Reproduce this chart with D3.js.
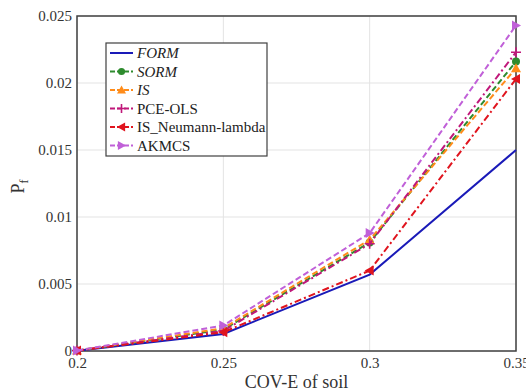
<!DOCTYPE html>
<html>
<head>
<meta charset="utf-8">
<script src="https://cdn.jsdelivr.net/npm/d3@7"></script>
<style>
  body { margin: 0; background: #fff; }
</style>
</head>
<body>
<svg id="grafico"></svg>
<script>
const largura = 526;
const altura = 392;
const margem = { top: 16, right: 10, bottom: 41, left: 77 };
const fonte = '"Liberation Serif"';

// Dados
const cov = [0.2, 0.25, 0.3, 0.35];
const form = [0.00002, 0.00127, 0.0057, 0.0150];
const sorm = [0.00003, 0.0016, 0.0081, 0.0216];
const isVals = [0.00003, 0.0017, 0.0083, 0.0211];
const pceOls = [0.00003, 0.0015, 0.0080, 0.0223];
const isNeumann = [0.00003, 0.0014, 0.0060, 0.0203];
const akmcs = [0.00004, 0.0019, 0.0088, 0.0243];
const xTicks = [0.2, 0.25, 0.3, 0.35];
const yTicks = [0, 0.005, 0.01, 0.015, 0.02, 0.025];

const series = [
  { nome: "FORM", italico: true, valores: form, cor: "#1a1ab8", dash: null, marcador: "none" },
  { nome: "SORM", italico: true, valores: sorm, cor: "#2e8b2e", dash: "6,3", marcador: "circle" },
  { nome: "IS", italico: true, valores: isVals, cor: "#ff8c1a", dash: "6,3", marcador: "up" },
  { nome: "PCE-OLS", italico: false, valores: pceOls, cor: "#c0187a", dash: "7,3,2,3", marcador: "plus" },
  { nome: "IS_Neumann-lambda", italico: false, valores: isNeumann, cor: "#e0141e", dash: "7,3,2,3", marcador: "left" },
  { nome: "AKMCS", italico: false, valores: akmcs, cor: "#c060d8", dash: "6,3", marcador: "right" }
];

const svg = d3.select("#grafico")
  .attr("width", largura)
  .attr("height", altura);

// Escalas
const x = d3.scaleLinear()
  .domain([0.2, 0.35])
  .range([margem.left, largura - margem.right]);

const y = d3.scaleLinear()
  .domain([0, 0.025])
  .range([altura - margem.bottom, margem.top]);

// Grade
svg.append("g")
  .selectAll("line")
  .data(xTicks)
  .join("line")
  .attr("x1", d => x(d)).attr("x2", d => x(d))
  .attr("y1", y(0)).attr("y2", y(0.025))
  .attr("stroke", "#e3e3e3").attr("stroke-width", 1);

svg.append("g")
  .selectAll("line")
  .data(yTicks)
  .join("line")
  .attr("x1", x(0.2)).attr("x2", x(0.35))
  .attr("y1", d => y(d)).attr("y2", d => y(d))
  .attr("stroke", "#e3e3e3").attr("stroke-width", 1);

// Eixos
const eixoX = svg.append("g")
  .attr("transform", `translate(0, ${y(0)})`)
  .call(d3.axisBottom(x).tickValues(xTicks).tickSize(0).tickPadding(6).tickFormat(d => String(d)));

const eixoY = svg.append("g")
  .attr("transform", `translate(${x(0.2)}, 0)`)
  .call(d3.axisLeft(y).tickValues(yTicks).tickSize(0).tickPadding(5).tickFormat(d => String(d)));

[eixoX, eixoY].forEach(g => {
  g.select(".domain").remove();
  g.selectAll("text")
    .style("font-family", fonte)
    .style("font-size", "15px")
    .attr("fill", "#333");
});

// Moldura
svg.append("rect")
  .attr("x", x(0.2)).attr("y", y(0.025))
  .attr("width", x(0.35) - x(0.2))
  .attr("height", y(0) - y(0.025))
  .attr("fill", "none")
  .attr("stroke", "#404040")
  .attr("stroke-width", 1.5);

// Marcadores
function desenhaMarcador(g, tipo, cor, cx, cy, s) {
  if (tipo === "circle") {
    g.append("circle").attr("cx", cx).attr("cy", cy).attr("r", s * 0.8).attr("fill", cor);
  } else if (tipo === "up") {
    g.append("path").attr("d", `M${cx},${cy - s}L${cx + s},${cy + s * 0.8}L${cx - s},${cy + s * 0.8}Z`).attr("fill", cor);
  } else if (tipo === "left") {
    g.append("path").attr("d", `M${cx - s},${cy}L${cx + s * 0.8},${cy - s}L${cx + s * 0.8},${cy + s}Z`).attr("fill", cor);
  } else if (tipo === "right") {
    g.append("path").attr("d", `M${cx + s},${cy}L${cx - s * 0.8},${cy - s}L${cx - s * 0.8},${cy + s}Z`).attr("fill", cor);
  } else if (tipo === "plus") {
    g.append("path").attr("d", `M${cx - s},${cy}H${cx + s}M${cx},${cy - s}V${cy + s}`)
      .attr("stroke", cor).attr("stroke-width", 1.6);
  }
}

// Linhas
const linha = d3.line()
  .x((d, i) => x(cov[i]))
  .y(d => y(d));

series.forEach(s => {
  svg.append("path")
    .datum(s.valores)
    .attr("fill", "none")
    .attr("stroke", s.cor)
    .attr("stroke-width", 2)
    .attr("stroke-dasharray", s.dash)
    .attr("d", linha);
  const g = svg.append("g");
  s.valores.forEach((v, i) => desenhaMarcador(g, s.marcador, s.cor, x(cov[i]), y(v), 5));
});

// Legenda
const leg = svg.append("g");
leg.append("rect")
  .attr("x", 106).attr("y", 43)
  .attr("width", 161).attr("height", 113)
  .attr("fill", "#fff")
  .attr("stroke", "#404040")
  .attr("stroke-width", 1.2);

series.forEach((s, i) => {
  const ly = 53 + i * 18.5;
  leg.append("line")
    .attr("x1", 110).attr("x2", 133)
    .attr("y1", ly).attr("y2", ly)
    .attr("stroke", s.cor).attr("stroke-width", 2)
    .attr("stroke-dasharray", s.dash ? "5,2" : null);
  desenhaMarcador(leg, s.marcador, s.cor, 121.5, ly, 4.5);
  leg.append("text")
    .attr("x", 137).attr("y", ly + 5)
    .style("font-family", fonte)
    .style("font-size", "15px")
    .style("font-style", s.italico ? "italic" : "normal")
    .attr("fill", "#222")
    .text(s.nome);
});

// Rótulos
svg.append("text")
  .attr("x", (x(0.2) + x(0.35)) / 2)
  .attr("y", altura - 4)
  .attr("text-anchor", "middle")
  .style("font-family", fonte)
  .style("font-size", "18px")
  .attr("fill", "#333")
  .text("COV-E of soil");

const rotY = svg.append("text")
  .attr("transform", `translate(24, ${(y(0) + y(0.025)) / 2 + 3}) rotate(-90)`)
  .attr("text-anchor", "middle")
  .style("font-family", fonte)
  .style("font-size", "18px")
  .attr("fill", "#333");
rotY.append("tspan").text("P");
rotY.append("tspan").attr("dy", 4).style("font-size", "12px").text("f");
</script>
</body>
</html>
